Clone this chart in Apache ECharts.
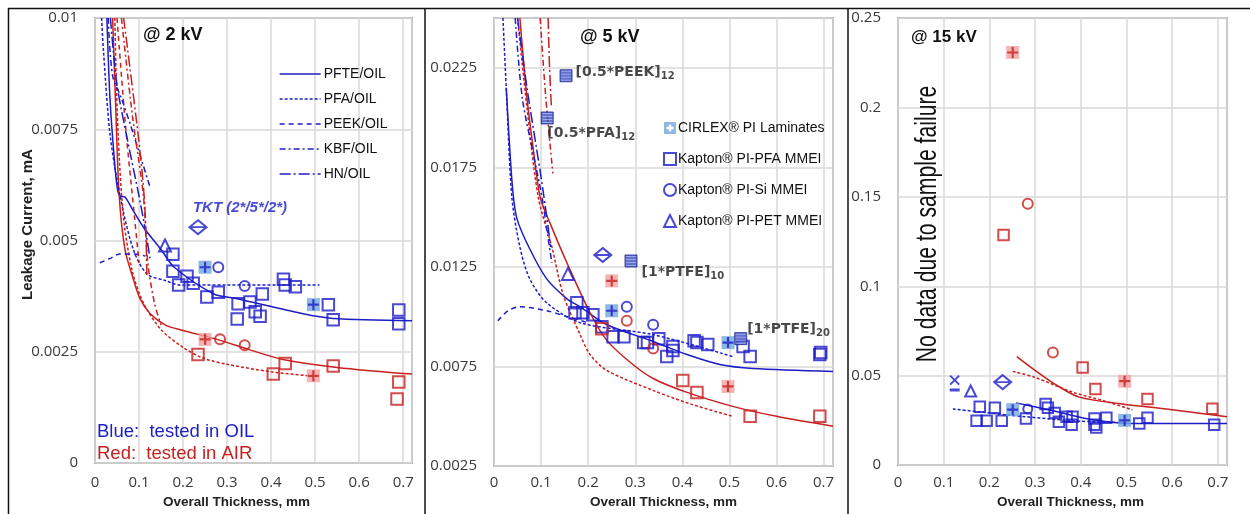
<!DOCTYPE html>
<html>
<head>
<meta charset="utf-8">
<script src="https://cdn.jsdelivr.net/npm/echarts@6/dist/echarts.min.js"></script>
<style>
  html, body { margin: 0; padding: 0; background: #fff; }
  #chart { width: 1250px; height: 514px; }
</style>
</head>
<body>
<div id="chart"></div>
<script>
// ---- panel 1 : @ 2 kV ----
const p1BlueSquares = [[0.177,0.00469],[0.177,0.00431],[0.209,0.0042],[0.19,0.0040],[0.223,0.00404],[0.254,0.00373],[0.28,0.00384],[0.325,0.00358],[0.352,0.00362],[0.38,0.0038],[0.323,0.00324],[0.364,0.0034],[0.375,0.0033],[0.428,0.00413],[0.432,0.0040],[0.455,0.00396],[0.53,0.00356],[0.541,0.00322],[0.69,0.00344],[0.69,0.00313]];
const p1BlueCircles = [[0.28,0.0044],[0.34,0.00398]];
const p1BlueTriangles = [[0.159,0.00489]];
const p1BlueCirlex = [[0.25,0.0044],[0.496,0.00356]];
const p1Tkt = [[0.234,0.0053]];
const p1RedSquares = [[0.234,0.00244],[0.405,0.0020],[0.432,0.00224],[0.541,0.00218],[0.69,0.00182],[0.686,0.00144]];
const p1RedCircles = [[0.284,0.00278],[0.34,0.00265]];
const p1RedCirlex = [[0.25,0.00278],[0.496,0.00196]];

const p1BluePtfe = [[0.027,0.01],[0.034,0.0082],[0.045,0.0067],[0.052,0.0061],[0.058,0.006],[0.068,0.00598],[0.085,0.0057],[0.11,0.0053],[0.15,0.0048],[0.18,0.0044],[0.27,0.0038],[0.32,0.0037],[0.47,0.00336],[0.54,0.00325],[0.72,0.0032]];
const p1BluePfa = [[0.015,0.01],[0.019,0.0093],[0.034,0.0074],[0.057,0.006],[0.087,0.0048],[0.118,0.00425],[0.16,0.0041],[0.193,0.0040],[0.3,0.004],[0.51,0.004]];
const p1BluePeek = [[0.011,0.0045],[0.035,0.0046],[0.057,0.0047],[0.09,0.0047],[0.115,0.00465]];
const p1BlueKbf = [[0.03,0.01],[0.04,0.0087],[0.06,0.0082],[0.087,0.0074],[0.125,0.0062]];
const p1BlueHn = [[0.035,0.01],[0.05,0.0085],[0.075,0.0072],[0.1,0.006],[0.115,0.0052],[0.125,0.0046]];
const p1RedPtfe = [[0.04,0.01],[0.047,0.008],[0.055,0.006],[0.068,0.0048],[0.085,0.0042],[0.102,0.0037],[0.125,0.00336],[0.16,0.0031],[0.2,0.00298],[0.277,0.00278],[0.35,0.00255],[0.427,0.00233],[0.55,0.00215],[0.72,0.002]];
const p1RedPfa = [[0.045,0.01],[0.052,0.0075],[0.065,0.0055],[0.085,0.0043],[0.11,0.0036],[0.15,0.003],[0.2,0.0026],[0.245,0.00236],[0.3,0.00222],[0.4,0.00205],[0.49,0.00196]];
const p1RedPeek = [[0.05,0.01],[0.07,0.0075],[0.09,0.0055],[0.1,0.0045]];
const p1RedKbf = [[0.06,0.01],[0.085,0.0078],[0.11,0.006],[0.12,0.0045],[0.135,0.0036],[0.15,0.0031]];
const p1RedHn = [[0.065,0.01],[0.1,0.0072],[0.113,0.0058],[0.118,0.0042]];

// ---- panel 2 : @ 5 kV ----
const p2BlueSquares = [[0.176,0.0107],[0.172,0.0102],[0.189,0.0102],[0.21,0.0101],[0.229,0.0095],[0.253,0.009],[0.276,0.009],[0.318,0.0087],[0.326,0.0087],[0.35,0.0089],[0.367,0.008],[0.38,0.0083],[0.38,0.0085],[0.425,0.0088],[0.431,0.0087],[0.454,0.0086],[0.529,0.0085],[0.544,0.008],[0.692,0.0081],[0.694,0.0082]];
const p2Stacks = [[0.153,0.0221],[0.113,0.01998],[0.291,0.0128],[0.524,0.0089]];
const p2StackNames = ['[0.5*PEEK]','[0.5*PFA]','[1*PTFE]','[1*PTFE]'];
const p2StackSubs = ['12','12','10','20'];
const p2Tkt = [[0.231,0.0131]];
const p2BlueTriangles = [[0.157,0.01215]];
const p2BlueCircles = [[0.282,0.0105],[0.338,0.0096]];
const p2BlueCirlex = [[0.25,0.0103],[0.497,0.0087]];
const p2RedCirlex = [[0.25,0.0118],[0.497,0.0065]];
const p2RedCircles = [[0.282,0.0098],[0.338,0.0084]];
const p2RedSquares = [[0.229,0.0094],[0.401,0.0068],[0.431,0.0062],[0.544,0.005],[0.692,0.005]];

const p2BluePtfe = [[0.026,0.0215],[0.032,0.019],[0.04,0.0163],[0.049,0.0149],[0.076,0.0134],[0.112,0.0119],[0.155,0.0109],[0.183,0.0105],[0.24,0.0096],[0.338,0.00876],[0.41,0.0081],[0.48,0.0076],[0.55,0.0074],[0.72,0.00725]];
const p2BluePfa = [[0.019,0.025],[0.027,0.021],[0.038,0.016],[0.055,0.0135],[0.076,0.0119],[0.112,0.0107],[0.183,0.0097],[0.338,0.0091],[0.507,0.008]];
const p2BluePeek = [[0.008,0.0098],[0.03,0.0103],[0.055,0.0105],[0.112,0.0103],[0.155,0.01],[0.2,0.0097]];
const p2BlueKbf = [[0.045,0.025],[0.06,0.021],[0.085,0.018],[0.102,0.016],[0.112,0.0144],[0.123,0.0127]];
const p2BlueHn = [[0.05,0.025],[0.07,0.0215],[0.1,0.017],[0.115,0.0145],[0.12,0.0135]];
const p2RedPtfe = [[0.055,0.025],[0.07,0.021],[0.083,0.0185],[0.098,0.016],[0.119,0.0147],[0.155,0.0127],[0.204,0.0102],[0.24,0.0088],[0.295,0.0076],[0.338,0.0069],[0.41,0.0062],[0.507,0.0055],[0.6,0.005],[0.72,0.0045]];
const p2RedPfa = [[0.05,0.025],[0.07,0.0205],[0.094,0.016],[0.123,0.0135],[0.147,0.0111],[0.183,0.0091],[0.204,0.0081],[0.24,0.0073],[0.338,0.0063],[0.42,0.0056],[0.507,0.005]];
const p2RedKbf = [[0.098,0.025],[0.11,0.021],[0.125,0.0172]];
const p2RedHn = [[0.115,0.025],[0.118,0.0225],[0.122,0.0205]];

// ---- panel 3 : @ 15 kV ----
const p3BlueSquares = [[0.179,0.0326],[0.172,0.0248],[0.194,0.0248],[0.212,0.032],[0.227,0.0248],[0.28,0.026],[0.323,0.0342],[0.328,0.032],[0.343,0.0292],[0.352,0.0243],[0.369,0.027],[0.38,0.0226],[0.382,0.027],[0.43,0.026],[0.43,0.0226],[0.434,0.021],[0.456,0.0265],[0.528,0.0232],[0.546,0.0265],[0.692,0.0226]];
const p3BlueCircles = [[0.284,0.0314]];
const p3BlueTriangles = [[0.159,0.0414]];
const p3BlueCross = [[0.124,0.0475]];
const p3BlueDash = [[0.124,0.042]];
const p3Tkt = [[0.229,0.0464]];
const p3BlueCirlex = [[0.251,0.031],[0.496,0.025]];
const p3RedCirlex = [[0.251,0.2307],[0.496,0.0469]];
const p3RedCircles = [[0.284,0.1462],[0.339,0.0629]];
const p3RedSquares = [[0.231,0.1286],[0.404,0.0546],[0.432,0.0425],[0.546,0.037],[0.688,0.0315]];

const p3RedPtfe = [[0.26,0.0607],[0.3,0.053],[0.347,0.0447],[0.397,0.038],[0.491,0.0342],[0.6,0.031],[0.72,0.027]];
const p3RedPfa = [[0.251,0.0524],[0.3,0.049],[0.382,0.0408],[0.45,0.036],[0.513,0.0309]];
const p3BluePtfe = [[0.258,0.0348],[0.339,0.0304],[0.426,0.0254],[0.528,0.0232],[0.72,0.0232]];
const p3BluePfa = [[0.12,0.0314],[0.238,0.0281],[0.382,0.0248],[0.5,0.0237]];

const BLUE = '#1c1cc8';
const RED = '#c81f1f';
const BLUE_BG = '#72a7de';
const RED_BG = '#f2a2a2';
const DOTTED = [3, 2];
const DASHED = [5, 4];
const DASHDOT = [6, 3, 2, 3];
const DASHDOTDOT = [11, 3, 2, 3];

const PLUS = 'path://M4,0h2v4h4v2h-4v4h-2v-4h-4v-2h4z';
const DIAMOND = 'path://M5,0L10,5L5,10L0,5Z M0,5L10,5';
const CROSS = 'path://M0,0L10,10M10,0L0,10';
const STRIPES = 'path://M0,0h10v1h-10z M0,3h10v1h-10z M0,6h10v1h-10z M0,9h10v1h-10z';

const chart = echarts.init(document.getElementById('chart'));
const series = [];

function addLine(name, data, g, color, type) {
    series.push({
        type: 'line', name: name, data: data, xAxisIndex: g, yAxisIndex: g,
        symbol: 'none', showSymbol: false, smooth: 0.3, z: 2,
        lineStyle: { color: color, width: 1.5, type: type },
        itemStyle: { color: color }
    });
}

function addOpen(name, data, g, symbol, size, color) {
    series.push({
        type: 'scatter', name: name, data: data, xAxisIndex: g, yAxisIndex: g,
        symbol: symbol, symbolSize: size, z: 4,
        itemStyle: { color: 'rgba(0,0,0,0)', borderColor: color, borderWidth: 2 }
    });
}

function addFilled(name, data, g, symbol, size, color, z) {
    series.push({
        type: 'scatter', name: name, data: data, xAxisIndex: g, yAxisIndex: g,
        symbol: symbol, symbolSize: size, z: z || 5,
        itemStyle: { color: color }
    });
}

function addCirlex(name, data, g, bg, fg) {
    addFilled(name, data, g, 'rect', 13, bg, 4);
    addFilled(name + ' +', data, g, PLUS, 11, fg, 5);
}

// curves, same line style per material; blue = OIL, red = AIR
const curveSets = [
    [p1BluePtfe, p1BluePfa, p1BluePeek, p1BlueKbf, p1BlueHn, p1RedPtfe, p1RedPfa, p1RedPeek, p1RedKbf, p1RedHn],
    [p2BluePtfe, p2BluePfa, p2BluePeek, p2BlueKbf, p2BlueHn, p2RedPtfe, p2RedPfa, null, p2RedKbf, p2RedHn],
    [p3BluePtfe, p3BluePfa, null, null, null, p3RedPtfe, p3RedPfa, null, null, null]
];
const oilNames = ['PFTE/OIL', 'PFA/OIL', 'PEEK/OIL', 'KBF/OIL', 'HN/OIL'];
const airNames = ['PTFE/AIR', 'PFA/AIR', 'PEEK/AIR', 'KBF/AIR', 'HN/AIR'];
const dashes = ['solid', DOTTED, DASHED, DASHDOT, DASHDOTDOT];

curveSets.forEach(function (set, g) {
    for (let i = 0; i < 5; i++) {
        if (set[i]) addLine(oilNames[i], set[i], g, BLUE, dashes[i]);
        if (set[i + 5]) addLine(airNames[i], set[i + 5], g, RED, dashes[i]);
    }
});

// panel 1 points
addOpen('Kapton® PI-PFA MMEI', p1BlueSquares, 0, 'rect', 11.5, BLUE);
addOpen('Kapton® PI-Si MMEI', p1BlueCircles, 0, 'circle', 10, BLUE);
addOpen('Kapton® PI-PET MMEI', p1BlueTriangles, 0, 'triangle', 12, BLUE);
addCirlex('CIRLEX® PI Laminates', p1BlueCirlex, 0, BLUE_BG, BLUE);
addOpen('PFA AIR', p1RedSquares, 0, 'rect', 11.5, RED);
addOpen('Si AIR', p1RedCircles, 0, 'circle', 10, RED);
addCirlex('CIRLEX AIR', p1RedCirlex, 0, RED_BG, RED);
series.push({
    type: 'scatter', name: 'TKT', data: p1Tkt, xAxisIndex: 0, yAxisIndex: 0,
    symbol: DIAMOND, symbolSize: [17, 14], z: 5,
    itemStyle: { color: 'rgba(0,0,0,0)', borderColor: BLUE, borderWidth: 2 },
    label: {
        show: true, position: 'top', distance: 4, offset: [42, 0],
        formatter: 'TKT (2*/5*/2*)', color: '#1a1ad0', fontSize: 15,
        fontWeight: 'bold', fontStyle: 'italic', fontFamily: 'Liberation Sans'
    }
});

// panel 2 points
addOpen('Kapton® PI-PFA MMEI', p2BlueSquares, 1, 'rect', 11.5, BLUE);
addOpen('Kapton® PI-Si MMEI', p2BlueCircles, 1, 'circle', 10, BLUE);
addOpen('Kapton® PI-PET MMEI', p2BlueTriangles, 1, 'triangle', 12, BLUE);
addCirlex('CIRLEX® PI Laminates', p2BlueCirlex, 1, BLUE_BG, BLUE);
addOpen('PFA AIR', p2RedSquares, 1, 'rect', 11.5, RED);
addOpen('Si AIR', p2RedCircles, 1, 'circle', 10, RED);
addCirlex('CIRLEX AIR', p2RedCirlex, 1, RED_BG, RED);
addOpen('TKT', p2Tkt, 1, DIAMOND, [17, 14], BLUE);

const stackLabels = [
    { position: 'right', distance: 3, offset: [0, -3] },
    { position: 'bottom', distance: 0, offset: [44, 0] },
    { position: 'right', distance: 4, offset: [0, 11] },
    { position: 'right', distance: 0, offset: [0, -9] }
];
series.push({
    type: 'scatter', name: 'stacks', xAxisIndex: 1, yAxisIndex: 1,
    symbol: 'rect', symbolSize: 12, z: 5,
    itemStyle: { color: '#3f4fc0', borderColor: '#1b2590', borderWidth: 1 },
    data: p2Stacks.map(function (p, i) {
        return {
            value: p,
            label: Object.assign({
                show: true,
                formatter: '{m|' + p2StackNames[i] + '}{s|' + p2StackSubs[i] + '}',
                rich: {
                    m: { fontSize: 14, fontWeight: 'bold', color: '#1a1a1a', fontFamily: 'DejaVu Sans' },
                    s: { fontSize: 10, fontWeight: 'bold', color: '#1a1a1a', fontFamily: 'DejaVu Sans', padding: [8, 0, 0, 0] }
                }
            }, stackLabels[i])
        };
    })
});
addFilled('stack lines', p2Stacks, 1, STRIPES, 10, '#a9b3f2', 6);

// panel 3 points
addOpen('Kapton® PI-PFA MMEI', p3BlueSquares, 2, 'rect', 10.5, BLUE);
addOpen('Kapton® PI-Si MMEI', p3BlueCircles, 2, 'circle', 9, BLUE);
addOpen('Kapton® PI-PET MMEI', p3BlueTriangles, 2, 'triangle', 11, BLUE);
addCirlex('CIRLEX® PI Laminates', p3BlueCirlex, 2, BLUE_BG, BLUE);
addOpen('PFA AIR', p3RedSquares, 2, 'rect', 10.5, RED);
addOpen('Si AIR', p3RedCircles, 2, 'circle', 10, RED);
addCirlex('CIRLEX AIR', p3RedCirlex, 2, RED_BG, RED);
addOpen('TKT', p3Tkt, 2, DIAMOND, [17, 14], BLUE);
addOpen('cross', p3BlueCross, 2, CROSS, 9, BLUE);
addFilled('dash', p3BlueDash, 2, 'rect', [10, 3], BLUE);

const grids = [
    { left: 95, top: 18, width: 317, height: 450 },
    { left: 494, top: 18, width: 339, height: 455 },
    { left: 898, top: 18, width: 329, height: 453 }
];
const yRanges = [
    { min: 0, max: 0.01, interval: 0.0025 },
    { min: 0.0025, max: 0.025, interval: 0.005 },
    { min: 0, max: 0.25, interval: 0.05 }
];
const xNamePad = [[0, 34, 0, 0], [0, 0, 0, 0], [0, 0, 0, 16]];
const xNameGap = [28, 23, 25];
const xLabelMargin = [12, 9, 10];

const splitLine = { show: true, lineStyle: { color: '#d9d9d9', width: 1.5 } };
const labelFont = { fontFamily: 'Open Sans', fontSize: 15, color: '#3a3a3a' };

const option = {
    animation: false,
    textStyle: { fontFamily: 'Liberation Sans' },
    grid: grids.map(function (g) {
        return Object.assign({ show: true, borderColor: '#a3a3a3', borderWidth: 2, backgroundColor: '#fff' }, g);
    }),
    xAxis: grids.map(function (g, i) {
        return {
            type: 'value', gridIndex: i, min: 0, max: 0.72, interval: 0.1,
            axisLine: { show: false }, axisTick: { show: false }, splitLine: splitLine,
            axisLabel: Object.assign({
                margin: xLabelMargin[i],
                formatter: function (v) {
                    return Math.abs(v * 10 - Math.round(v * 10)) > 1e-6 ? '' : String(+v.toFixed(1));
                }
            }, labelFont),
            name: 'Overall Thickness, mm', nameLocation: 'middle', nameGap: xNameGap[i],
            nameTextStyle: { fontWeight: 'bold', fontSize: 13.5, color: '#222', padding: xNamePad[i] }
        };
    }),
    yAxis: yRanges.map(function (r, i) {
        return Object.assign({
            type: 'value', gridIndex: i,
            axisLine: { show: false }, axisTick: { show: false }, splitLine: splitLine,
            axisLabel: Object.assign({
                margin: 17,
                formatter: function (v) {
                    return (i === 1 && v > 0.024) ? '' : String(+v.toFixed(4));
                }
            }, labelFont),
            name: i === 0 ? 'Leakage Current, mA' : '',
            nameLocation: 'middle', nameGap: 60, nameMoveOverlap: false,
            nameTextStyle: { fontWeight: 'bold', fontSize: 15, color: '#222', padding: [0, 0, 0, 32] }
        }, r);
    }),
    legend: [
        {
            data: oilNames, orient: 'vertical', left: 274, top: 62,
            itemWidth: 41, itemHeight: 14, itemGap: 11,
            itemStyle: { opacity: 0 },
            lineStyle: { width: 1.3 },
            textStyle: { fontSize: 14, color: '#111', fontFamily: 'Liberation Sans', padding: [0, 0, 0, -2] },
            selectedMode: false
        },
        {
            data: [
                { name: 'CIRLEX® PI Laminates', icon: 'path://M0,0H10V10H0Z M4,2V4H2V6H4V8H6V6H8V4H6V2Z' },
                'Kapton® PI-PFA MMEI', 'Kapton® PI-Si MMEI', 'Kapton® PI-PET MMEI'
            ],
            orient: 'vertical', left: 658, top: 116,
            itemWidth: 12, itemHeight: 12, itemGap: 17,
            textStyle: { fontSize: 14, color: '#111', fontFamily: 'Liberation Sans', padding: [0, 0, 0, -3] },
            selectedMode: false
        }
    ],
    graphic: [
        { type: 'line', shape: { x1: 8, y1: 8.5, x2: 1250, y2: 8.5 }, style: { stroke: '#111', lineWidth: 1.5 } },
        { type: 'line', shape: { x1: 8.5, y1: 8, x2: 8.5, y2: 514 }, style: { stroke: '#111', lineWidth: 1.5 } },
        { type: 'line', shape: { x1: 425, y1: 8, x2: 425, y2: 514 }, style: { stroke: '#111', lineWidth: 1.5 } },
        { type: 'line', shape: { x1: 848, y1: 8, x2: 848, y2: 514 }, style: { stroke: '#111', lineWidth: 1.5 } },
        { type: 'text', x: 143, y: 35, z: 10, style: { text: '@ 2 kV', fontSize: 18, fontWeight: 'bold', fontFamily: 'Liberation Sans', fill: '#111', textVerticalAlign: 'middle' } },
        { type: 'text', x: 580, y: 37, z: 10, style: { text: '@ 5 kV', fontSize: 18, fontWeight: 'bold', fontFamily: 'Liberation Sans', fill: '#111', textVerticalAlign: 'middle' } },
        { type: 'text', x: 911, y: 37, z: 10, style: { text: '@ 15 kV', fontSize: 17, fontWeight: 'bold', fontFamily: 'Liberation Sans', fill: '#111', textVerticalAlign: 'middle' } },
        { type: 'text', x: 97, y: 432, z: 10, style: { text: 'Blue:  tested in OIL', fontSize: 18.5, fontFamily: 'Liberation Sans', fill: BLUE, textVerticalAlign: 'middle' } },
        { type: 'text', x: 97, y: 454, z: 10, style: { text: 'Red:  tested in AIR', fontSize: 18.5, fontFamily: 'Liberation Sans', fill: RED, textVerticalAlign: 'middle' } },
        { type: 'text', x: 928, y: 224, z: 10, rotation: Math.PI / 2, scaleX: 0.73,
          style: { text: 'No data due to sample failure', fontSize: 29, fontFamily: 'Liberation Sans', fill: '#111', textAlign: 'center', textVerticalAlign: 'middle' } }
    ],
    series: series
};

chart.setOption(option);
</script>
</body>
</html>
